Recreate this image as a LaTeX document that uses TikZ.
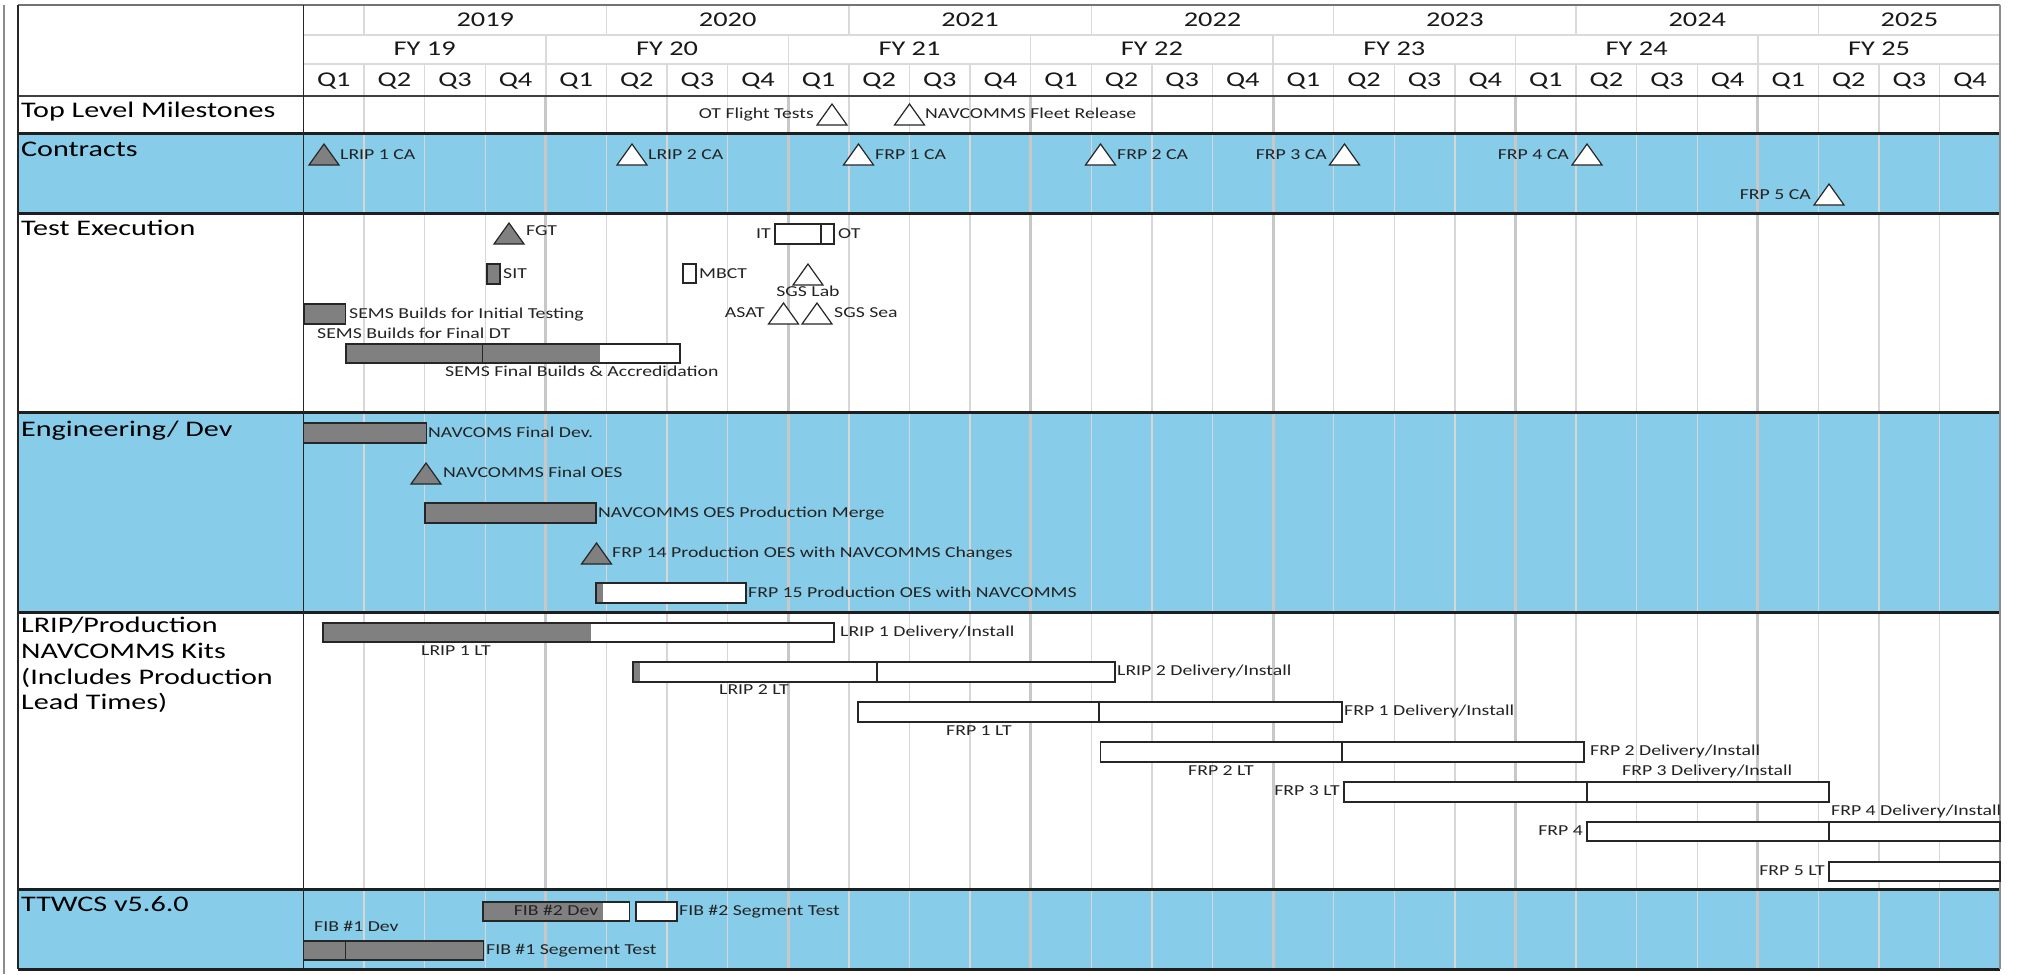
\documentclass[tikz,border=0pt]{standalone}
\usepackage{fontspec}
\setmainfont[FakeStretch=1.35]{Carlito}
\newfontfamily\smfont[FakeStretch=1.3]{Carlito}
\definecolor{skyb}{RGB}{135,205,234}
\definecolor{barg}{RGB}{128,128,128}
\definecolor{hgridc}{RGB}{218,218,218}
\definecolor{qgridc}{RGB}{215,215,215}
\definecolor{fyc}{RGB}{200,200,200}
\definecolor{sepc}{RGB}{30,30,30}
\definecolor{txtc}{RGB}{35,35,35}
\tikzset{
  hgrid/.style={draw=hgridc, line width=1.3pt},
  qgrid/.style={draw=qgridc, line width=1.3pt},
  fygrid/.style={draw=fyc, line width=3pt},
  sepl/.style={draw=sepc, line width=3pt},
  hdrl/.style={draw=black!75, line width=1.8pt},
  vl/.style={draw=black!85, line width=1.5pt},
  rl/.style={draw=black!45, line width=1.5pt},
  topl/.style={draw=black!55, line width=1.8pt},
  outerl/.style={draw=black!45, line width=2pt},
  hdr/.style={font=\fontsize{21}{24}\selectfont, inner sep=0pt, anchor=base, text=black!90},
  rowlab/.style={font=\fontsize{22.3}{25}\selectfont, inner sep=0pt, anchor=base west, text=black},
  sm/.style={font=\smfont\fontsize{15.2}{17}\selectfont, inner sep=0pt, text height=9.6pt, text depth=0pt, text=txtc},
  bar/.style={draw=black!85, line width=1.3pt},
  tri/.style={draw=black!85, line width=1.2pt, line join=miter},
  pics/mtri/.style={code={\draw[tri,fill=#1] (-15,21) -- (0,0) -- (15,21) -- cycle;}}
}
\begin{document}
\begin{tikzpicture}[x=1pt,y=-1pt]
\useasboundingbox (0,0) rectangle (2017,974);
\fill[white] (0,0) rectangle (2017,974);
% blue rows
\fill[skyb] (18,133) rectangle (2000,213);
\fill[skyb] (18,412) rectangle (2000,612);
\fill[skyb] (18,889) rectangle (2000,969);
% header grid
\draw[hgrid] (303.5,35) -- (2000,35);
\draw[hgrid] (303.5,64) -- (2000,64);
\foreach \q in {1,...,27} \draw[hgrid] ({303.5+60.6*\q},64) -- ({303.5+60.6*\q},96);
\foreach \q in {4,8,...,24} \draw[hgrid] ({303.5+60.6*\q},35) -- ({303.5+60.6*\q},64);
\foreach \q in {1,5,...,25} \draw[hgrid] ({303.5+60.6*\q},5) -- ({303.5+60.6*\q},35);
% body grid
\foreach \q in {1,...,27} \draw[qgrid] ({303.5+60.6*\q},96) -- ({303.5+60.6*\q},969);
\foreach \q in {4,8,...,24} \draw[fygrid] ({303.5+60.6*\q},96) -- ({303.5+60.6*\q},969);
% separators and borders
\foreach \y in {133,213,412,612,889,969} \draw[sepl] (18,\y) -- (2000,\y);
\draw[hdrl] (18,96) -- (2000,96);
\draw[outerl] (4,5) -- (4,974);
\draw[topl] (18,5) -- (2000,5);
\draw[vl] (18,5) -- (18,969);
\draw[vl] (303.5,5) -- (303.5,969);
\draw[rl] (2000,5) -- (2000,969);
% header text
\foreach \yr [count=\i from 0] in {2019,2020,2021,2022,2023,2024}
  \node[hdr] (yr\yr) at ({303.5+60.6*(3+4*\i)},27) {\yr};
\node[hdr] (yr2025) at (1909.4,27) {2025};
\foreach \f [count=\i from 0] in {19,20,21,22,23,24,25}
  \node[hdr] (fy\f) at ({303.5+60.6*(2+4*\i)},56) {FY \f};
\foreach \q in {0,...,27} {
  \pgfmathtruncatemacro\qn{mod(\q,4)+1}
  \node[hdr] (q\q) at ({303.5+60.6*(\q+0.5)},86) {Q\qn};
}
% row labels
\node[rowlab] (lTLM) at (21,117) {Top Level Milestones};
\node[rowlab] (lCon) at (21,156) {Contracts};
\node[rowlab] (lTest) at (21,235) {Test Execution};
\node[rowlab] (lEng) at (21,436) {Engineering/ Dev};
\node[rowlab] (lLa) at (21,632) {LRIP/Production};
\node[rowlab] (lLb) at (21,658) {NAVCOMMS Kits};
\node[rowlab] (lLc) at (21,684) {(Includes Production};
\node[rowlab] (lLd) at (21,709) {Lead Times)};
\node[rowlab] (lTtw) at (21,911) {TTWCS v5.6.0};
% ---------- Top level milestones
\pic (mOT) at (832,104) {mtri=white};
\node[sm, anchor=east] (tOT) at (814,114) {OT Flight Tests};
\pic (mNav) at (909.5,104) {mtri=white};
\node[sm, anchor=west] (tNav) at (925,114) {NAVCOMMS Fleet Release};
% ---------- Contracts
\pic (mL1) at (324,144) {mtri=barg};
\node[sm, anchor=west] (tL1) at (340,155) {LRIP 1 CA};
\pic (mL2) at (632,144) {mtri=white};
\node[sm, anchor=west] (tL2) at (648,155) {LRIP 2 CA};
\pic (mF1) at (858.5,144) {mtri=white};
\node[sm, anchor=west] (tF1) at (875,155) {FRP 1 CA};
\pic (mF2) at (1100.5,144) {mtri=white};
\node[sm, anchor=west] (tF2) at (1117,155) {FRP 2 CA};
\pic (mF3) at (1344.5,144) {mtri=white};
\node[sm, anchor=east] (tF3) at (1327,155) {FRP 3 CA};
\pic (mF4) at (1587,144) {mtri=white};
\node[sm, anchor=east] (tF4) at (1569,155) {FRP 4 CA};
\pic (mF5) at (1829,184) {mtri=white};
\node[sm, anchor=east] (tF5) at (1811,195) {FRP 5 CA};
% ---------- Test execution
\pic (mFGT) at (509,223) {mtri=barg};
\node[sm, anchor=west] (tFGT) at (526,231) {FGT};
\draw[bar, fill=white] (775,224) rectangle (834,244);
\draw[bar] (821,224) -- (821,244);
\node[sm, anchor=east] (tIT) at (771,234) {IT};
\node[sm, anchor=west] (tOTb) at (838,234) {OT};
\draw[bar, fill=barg] (487,264) rectangle (500,284);
\node[sm, anchor=west] (tSIT) at (503,274) {SIT};
\draw[bar, fill=white] (683,264) rectangle (696,283);
\node[sm, anchor=west] (tMBCT) at (699,274) {MBCT};
\pic (mSGSL) at (808,264) {mtri=white};
\node[sm] (tSGSL) at (808,292) {SGS Lab};
\pic (mASAT) at (783.5,303) {mtri=white};
\node[sm, anchor=east] (tASAT) at (765,313) {ASAT};
\pic (mSGSS) at (817,303) {mtri=white};
\node[sm, anchor=west] (tSGSS) at (834,313) {SGS Sea};
\draw[bar, fill=barg] (304,304) rectangle (345.5,324);
\node[sm, anchor=west] (tSEMS1) at (349,314) {SEMS Builds for Initial Testing};
\node[sm, anchor=west] (tSEMS2) at (317,334) {SEMS Builds for Final DT};
\fill[white] (346,344) rectangle (680,363);
\fill[barg] (346,344) rectangle (600,363);
\draw[bar] (346,344) rectangle (680,363);
\draw[bar] (482.5,344) -- (482.5,363);
\node[sm, anchor=west] (tSEMS3) at (445,372) {SEMS Final Builds \& Accredidation};
% ---------- Engineering / Dev
\draw[bar, fill=barg] (303.5,423) rectangle (426.5,443);
\node[sm, anchor=west] (tNFD) at (428,433) {NAVCOMS Final Dev.};
\pic (mOES) at (426,463) {mtri=barg};
\node[sm, anchor=west] (tOES) at (443,473) {NAVCOMMS Final OES};
\draw[bar, fill=barg] (425,503) rectangle (596,523);
\node[sm, anchor=west] (tMerge) at (598,513) {NAVCOMMS OES Production Merge};
\pic (m14) at (596.5,543) {mtri=barg};
\node[sm, anchor=west] (t14) at (612,553) {FRP 14 Production OES with NAVCOMMS Changes};
\fill[white] (596,583) rectangle (746,603);
\fill[barg] (596,583) rectangle (603,603);
\draw[bar] (596,583) rectangle (746,603);
\node[sm, anchor=west] (t15) at (748,593) {FRP 15 Production OES with NAVCOMMS};
% ---------- LRIP / production
\fill[white] (323,623) rectangle (834,642);
\fill[barg] (323,623) rectangle (591,642);
\draw[bar] (323,623) rectangle (834,642);
\node[sm, anchor=west] (tL1D) at (840,632) {LRIP 1 Delivery/Install};
\node[sm, anchor=west] (tL1LT) at (421,651) {LRIP 1 LT};
\fill[white] (633,662) rectangle (1115,682);
\fill[barg] (633,662) rectangle (640,682);
\draw[bar] (633,662) rectangle (1115,682);
\draw[bar] (877,662) -- (877,682);
\node[sm, anchor=west] (tL2D) at (1117,671) {LRIP 2 Delivery/Install};
\node[sm, anchor=west] (tL2LT) at (719,690) {LRIP 2 LT};
\draw[bar, fill=white] (858,702) rectangle (1342,722);
\draw[bar] (1099,702) -- (1099,722);
\node[sm, anchor=west] (tF1D) at (1344,711) {FRP 1 Delivery/Install};
\node[sm, anchor=west] (tF1LT) at (946,731) {FRP 1 LT};
\draw[bar, fill=white] (1100.5,742) rectangle (1584,762);
\draw[bar] (1342,742) -- (1342,762);
\node[sm, anchor=west] (tF2D) at (1590,751) {FRP 2 Delivery/Install};
\node[sm, anchor=west] (tF2LT) at (1188,771) {FRP 2 LT};
\node[sm, anchor=west] (tF3D) at (1622,771) {FRP 3 Delivery/Install};
\draw[bar, fill=white] (1344,782) rectangle (1829,802);
\draw[bar] (1587,782) -- (1587,802);
\node[sm, anchor=east] (tF3LT) at (1340,791) {FRP 3 LT};
\node[sm, anchor=west] (tF4D) at (1831,811) {FRP 4 Delivery/Install};
\draw[bar, fill=white] (1587,822) rectangle (2000,841);
\draw[bar] (1829,822) -- (1829,841);
\node[sm, anchor=east] (tF4LT) at (1583,831) {FRP 4};
\draw[bar, fill=white] (1829,862) rectangle (2000,881);
\node[sm, anchor=east] (tF5LT) at (1825,871) {FRP 5 LT};
% ---------- TTWCS
\fill[white] (483,902) rectangle (629.5,921);
\fill[barg] (483,902) rectangle (603,921);
\draw[bar] (483,902) rectangle (629.5,921);
\node[sm] (tFIB2) at (556,911) {FIB \#2 Dev};
\draw[bar, fill=white] (636,902) rectangle (677,921);
\node[sm, anchor=west] (tFIB2S) at (679,911) {FIB \#2 Segment Test};
\node[sm, anchor=west] (tFIB1) at (314,927) {FIB \#1 Dev};
\draw[bar, fill=barg] (303.5,941) rectangle (483.5,960);
\draw[bar] (345.6,941) -- (345.6,960);
\node[sm, anchor=west] (tFIB1S) at (486,950) {FIB \#1 Segement Test};
\end{tikzpicture}
\end{document}
